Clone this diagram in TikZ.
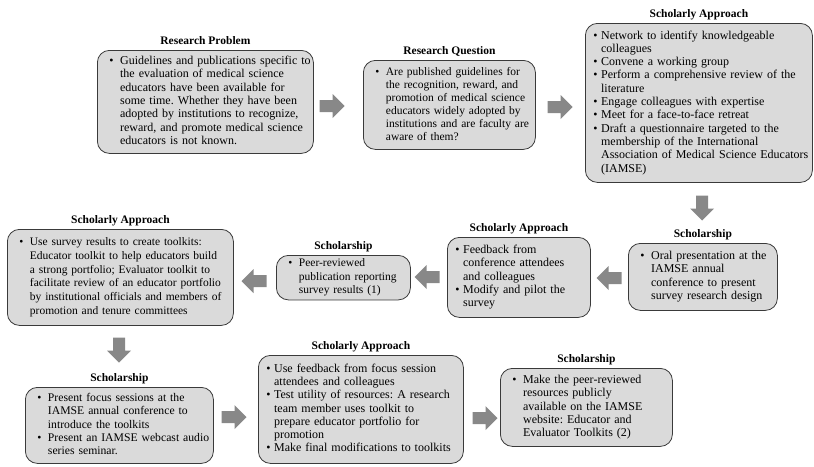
\documentclass[tikz,border=0pt]{standalone}
\usepackage{fontspec}
\setmainfont{Liberation Serif}
\usepackage{array}
\definecolor{boxgray}{HTML}{DADADA}
\definecolor{arrgray}{HTML}{888888}
\definecolor{edgegray}{HTML}{3A3A3A}
% bullet columns: wide and narrow
\newcolumntype{W}{@{\hspace{8pt}}l@{\hspace{6.5pt}}l@{}}
\newcolumntype{N}{@{\hspace{4pt}}l@{\hspace{3.5pt}}l@{}}
\frenchspacing

\begin{document}
\begin{tikzpicture}[
  x=1pt, y=-1pt,
  fs/.style 2 args={font=\fontsize{#1}{#2}\selectfont},
  box/.style={draw=edgegray, line width=0.8pt, fill=boxgray, rounded corners=12pt,
    anchor=north west, align=left, inner xsep=4pt, inner ysep=2pt, fs={12}{13.3}},
  ttl/.style={font=\fontsize{11.5}{13}\selectfont\bfseries, anchor=base, inner sep=0pt},
  blockarr/.pic={\fill[arrgray] (-12.5,-6) -- (0.5,-6) -- (0.5,-12) -- (12.5,0)
    -- (0.5,12) -- (0.5,6) -- (-12.5,6) -- cycle;}
]
\useasboundingbox (0,0) rectangle (814,466);

% top row
\node[box, text width=208pt, minimum height=103pt] (rp) at (97,50) {%
\begin{tabular}{W}
\textbullet & Guidelines and publications specific to\\
 & the evaluation of medical science\\
 & educators have been available for\\
 & some time. Whether they have been\\
 & adopted by institutions to recognize,\\
 & reward, and promote medical science\\
 & educators is not known.
\end{tabular}};
\node[ttl] (rp_t) at ([yshift=6pt]rp.north) {Research Problem};

\node[box, fs={11.5}{13}, text width=164pt, minimum height=89pt] (rq) at (363,60) {%
\begin{tabular}{W}
\textbullet & Are published guidelines for\\
 & the recognition, reward, and\\
 & promotion of medical science\\
 & educators widely adopted by\\
 & institutions and are faculty are\\
 & aware of them?
\end{tabular}};
\node[ttl] (rq_t) at ([yshift=6pt]rq.north) {Research Question};

\node[box, text width=219pt, minimum height=159pt] (sa1) at (585,23) {%
\begin{tabular}{N}
\textbullet & Network to identify knowledgeable\\
 & colleagues\\
\textbullet & Convene a working group\\
\textbullet & Perform a comprehensive review of the\\
 & literature\\
\textbullet & Engage colleagues with expertise\\
\textbullet & Meet for a face-to-face retreat\\
\textbullet & Draft a questionnaire targeted to the\\
 & membership of the International\\
 & Association of Medical Science Educators\\
 & (IAMSE)
\end{tabular}};
\node[ttl] (sa1_t) at ([yshift=6pt]sa1.north) {Scholarly Approach};

% middle row
\node[box, text width=141pt, minimum height=67pt] (s1) at (628,243) {%
\begin{tabular}{W}
\textbullet & Oral presentation at the\\
 & IAMSE annual\\
 & conference to present\\
 & survey research design
\end{tabular}};
\node[ttl] (s1_t) at ([yshift=6pt]s1.north) {Scholarship};

\node[box, text width=135pt, minimum height=80pt] (sa2) at (447,237) {%
\begin{tabular}{N}
\textbullet & Feedback from\\
 & conference attendees\\
 & and colleagues\\
\textbullet & Modify and pilot the\\
 & survey
\end{tabular}};
\node[ttl] (sa2_t) at ([yshift=6pt]sa2.north) {Scholarly Approach};

\node[box, fs={11.5}{13.5}, text width=126pt, minimum height=44pt] (s2) at (276,255) {%
\begin{tabular}{W}
\textbullet & Peer-reviewed\\
 & publication reporting\\
 & survey results (1)
\end{tabular}};
\node[ttl] (s2_t) at ([yshift=6pt]s2.north) {Scholarship};

\node[box, fs={11.5}{13.7}, text width=218pt, minimum height=96pt] (sa3) at (7,229) {%
\begin{tabular}{W}
\textbullet & Use survey results to create toolkits:\\
 & Educator toolkit to help educators build\\
 & a strong portfolio; Evaluator toolkit to\\
 & facilitate review of an educator portfolio\\
 & by institutional officials and members of\\
 & promotion and tenure committees
\end{tabular}};
\node[ttl] (sa3_t) at ([yshift=6pt]sa3.north) {Scholarly Approach};

% bottom row
\node[box, fs={11.7}{13.2}, text width=180pt, minimum height=76pt] (s3) at (25,387) {%
\begin{tabular}{W}
\textbullet & Present focus sessions at the\\
 & IAMSE annual conference to\\
 & introduce the toolkits\\
\textbullet & Present an IAMSE webcast audio\\
 & series seminar.
\end{tabular}};
\node[ttl] (s3_t) at ([yshift=6pt]s3.north) {Scholarship};

\node[box, text width=197pt, minimum height=108pt] (sa4) at (258,355) {%
\begin{tabular}{N}
\textbullet & Use feedback from focus session\\
 & attendees and colleagues\\
\textbullet & Test utility of resources: A research\\
 & team member uses toolkit to\\
 & prepare educator portfolio for\\
 & promotion\\
\textbullet & Make final modifications to toolkits
\end{tabular}};
\node[ttl] (sa4_t) at ([yshift=6pt]sa4.north) {Scholarly Approach};

\node[box, text width=164pt, minimum height=78pt] (s4) at (500,368) {%
\begin{tabular}{W}
\textbullet & Make the peer-reviewed\\
 & resources publicly\\
 & available on the IAMSE\\
 & website: Educator and\\
 & Evaluator Toolkits (2)
\end{tabular}};
\node[ttl] (s4_t) at ([yshift=6pt]s4.north) {Scholarship};

% block arrows
\pic (a1) at (332,106) {blockarr};
\pic (a2) at (560,107) {blockarr};
\pic[rotate=-90] (a3) at (702,208) {blockarr};
\pic[rotate=180] (a4) at (609,278) {blockarr};
\pic[rotate=180] (a5) at (427,277) {blockarr};
\pic[rotate=180] (a6) at (254,281) {blockarr};
\pic[rotate=-90] (a7) at (119,350) {blockarr};
\pic (a8) at (234,417) {blockarr};
\pic (a9) at (485,418) {blockarr};

\end{tikzpicture}
\end{document}
